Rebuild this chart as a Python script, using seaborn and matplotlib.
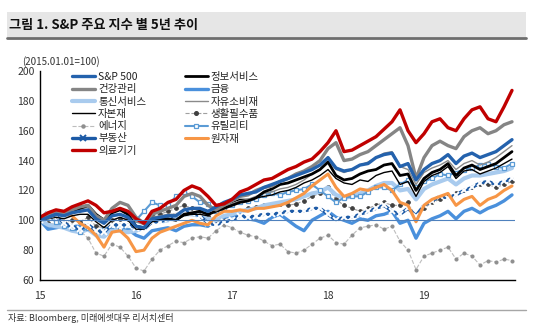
import numpy as np
import pandas as pd
import matplotlib
matplotlib.use("Agg")
import matplotlib.pyplot as plt
from matplotlib.lines import Line2D
from matplotlib.patches import Rectangle
import seaborn as sns

sns.set_theme(style="white")
plt.rcParams['font.family'] = ['Noto Sans CJK KR', 'DejaVu Sans']
plt.rcParams['axes.unicode_minus'] = False

# monthly observations Jan-2015 .. Dec-2019 ; x position = 15 + month/12
months = list(range(60))

sp500 = [100, 102, 104, 103, 105, 106, 107, 101, 98, 103, 104, 102,
         96, 95, 101, 102, 103, 103, 107, 108, 108, 106, 109, 112,
         114, 117, 118, 119, 122, 124, 126, 128, 130, 132, 134, 137,
         142, 135, 133, 134, 137, 138, 142, 144, 145, 136, 138, 127,
         134, 138, 140, 144, 138, 143, 145, 142, 144, 146, 150, 154]
info_svc = [100, 102, 104, 104, 106, 108, 110, 104, 100, 105, 107, 104,
            96, 95, 100, 101, 101, 100, 104, 105, 106, 104, 106, 108,
            110, 112, 113, 115, 119, 121, 124, 125, 127, 129, 131, 134,
            139, 130, 127, 128, 131, 133, 134, 137, 138, 130, 131, 120,
            128, 132, 134, 138, 130, 135, 137, 134, 136, 138, 142, 146]
health = [101, 104, 106, 104, 107, 109, 110, 103, 100, 108, 112, 110,
          102, 98, 104, 106, 108, 110, 116, 118, 116, 110, 107, 110,
          113, 116, 117, 120, 122, 123, 126, 128, 131, 133, 136, 140,
          148, 152, 140, 141, 144, 146, 150, 154, 158, 162, 150, 128,
          142, 150, 153, 150, 148, 156, 160, 162, 158, 160, 164, 166]
financials = [100, 94, 95, 96, 96, 96, 97, 93, 91, 95, 95, 94,
              90, 88, 93, 94, 95, 93, 96, 97, 97, 96, 100, 102,
              103, 104, 101, 100, 98, 102, 104, 100, 96, 93, 100, 103,
              106, 102, 100, 98, 101, 100, 103, 104, 106, 98, 100, 88,
              98, 101, 103, 106, 101, 106, 108, 105, 108, 110, 113, 117]
telecom = [100, 97, 96, 95, 93, 92, 94, 90, 89, 94, 93, 92,
           93, 95, 99, 99, 100, 102, 104, 104, 103, 101, 100, 103,
           104, 106, 107, 108, 110, 111, 112, 113, 114, 116, 118, 119,
           122, 117, 115, 116, 118, 120, 123, 125, 125, 120, 121, 114,
           121, 124, 126, 128, 124, 128, 130, 130, 131, 132, 133, 135]
cons_disc = [100, 101, 103, 104, 105, 107, 109, 104, 101, 106, 108, 106,
             99, 97, 102, 103, 104, 104, 107, 108, 108, 106, 107, 109,
             111, 113, 114, 116, 118, 119, 121, 122, 124, 127, 131, 134,
             140, 134, 132, 134, 137, 139, 142, 145, 146, 136, 134, 124,
             132, 135, 137, 140, 134, 138, 140, 137, 139, 142, 146, 150]
capital_goods = [100, 101, 102, 101, 103, 104, 104, 99, 95, 100, 102, 100,
                 94, 94, 99, 100, 101, 100, 103, 104, 104, 103, 107, 110,
                 112, 114, 114, 115, 116, 117, 119, 120, 122, 125, 127, 130,
                 134, 128, 125, 124, 127, 126, 130, 132, 133, 124, 126, 116,
                 126, 130, 132, 136, 128, 133, 134, 131, 133, 135, 138, 141]
staples = [100, 98, 97, 99, 100, 99, 102, 96, 95, 100, 101, 101,
           100, 99, 103, 104, 106, 108, 110, 108, 106, 103, 100, 102,
           104, 106, 108, 109, 110, 110, 111, 110, 111, 113, 116, 118,
           122, 114, 110, 108, 106, 108, 110, 112, 110, 110, 112, 102,
           108, 112, 114, 116, 118, 120, 122, 124, 124, 122, 124, 126]
energy = [100, 97, 96, 99, 97, 93, 88, 78, 76, 84, 82, 76,
          68, 66, 74, 80, 83, 86, 85, 88, 89, 88, 93, 97,
          95, 92, 90, 89, 86, 83, 84, 79, 78, 80, 84, 88,
          90, 85, 84, 90, 95, 96, 97, 94, 96, 86, 80, 67,
          76, 78, 80, 82, 74, 78, 76, 70, 73, 72, 74, 73]
utilities = [100, 103, 99, 96, 95, 92, 95, 93, 94, 96, 95, 96,
             100, 106, 112, 110, 110, 116, 119, 116, 112, 111, 106, 108,
             110, 112, 113, 114, 117, 118, 117, 119, 120, 121, 124, 120,
             116, 112, 115, 116, 116, 119, 122, 122, 120, 124, 127, 122,
             126, 128, 131, 130, 132, 134, 135, 137, 138, 136, 135, 138]
real_estate = [100, 106, 103, 98, 96, 94, 97, 93, 92, 97, 97, 97,
               95, 94, 99, 99, 101, 104, 106, 105, 103, 98, 97, 99,
               100, 103, 102, 103, 104, 104, 105, 106, 106, 106, 108, 108,
               104, 100, 102, 102, 104, 106, 108, 110, 106, 104, 108, 103,
               110, 113, 116, 115, 117, 120, 122, 125, 126, 124, 126, 128]
materials = [100, 103, 104, 104, 103, 98, 95, 90, 82, 92, 93, 88,
             79, 80, 88, 92, 94, 96, 98, 100, 98, 97, 103, 106,
             106, 107, 106, 108, 108, 109, 110, 112, 115, 118, 123, 127,
             131, 122, 116, 118, 121, 120, 122, 124, 120, 112, 110, 99,
             110, 114, 116, 118, 110, 114, 116, 110, 114, 116, 120, 123]
med_devices = [102, 105, 107, 106, 109, 111, 113, 110, 105, 106, 108, 106,
               101, 98, 106, 108, 112, 114, 120, 123, 121, 116, 110, 111,
               114, 119, 121, 124, 127, 128, 131, 134, 136, 139, 141, 146,
               152, 160, 146, 147, 150, 153, 156, 161, 166, 174, 160, 152,
               158, 166, 168, 162, 160, 168, 174, 176, 168, 166, 176, 187]

x_tick_vals = [15, 16, 17, 18, 19]
x_tick_labels = ["15", "16", "17", "18", "19"]
y_tick_vals = [60, 80, 100, 120, 140, 160, 180, 200]

series = {
    'S&P 500': sp500, '정보서비스': info_svc, '건강관리': health, '금융': financials,
    '통신서비스': telecom, '자유소비재': cons_disc, '자본재': capital_goods,
    '생활필수품': staples, '에너지': energy, '유틸리티': utilities,
    '부동산': real_estate, '원자재': materials, '의료기기': med_devices,
}

styles = {
    'S&P 500': dict(color='#2462ad', linewidth=2.4),
    '정보서비스': dict(color='#000000', linewidth=2.0),
    '건강관리': dict(color='#858585', linewidth=2.4),
    '금융': dict(color='#4a90dc', linewidth=2.4),
    '통신서비스': dict(color='#a9cbee', linewidth=3.0),
    '자유소비재': dict(color='#8a8a8a', linewidth=1.0),
    '자본재': dict(color='#000000', linewidth=1.0),
    '생활필수품': dict(color='#a0a0a0', linewidth=0.8, linestyle='--', marker='o',
                   markersize=2.6, markerfacecolor='#404040', markeredgecolor='#404040'),
    '에너지': dict(color='#bdbdbd', linewidth=0.8, linestyle='--', marker='o',
                markersize=2.2, markerfacecolor='#8f8f8f', markeredgecolor='#8f8f8f'),
    '유틸리티': dict(color='#5b9bd5', linewidth=1.5, marker='s', markersize=3.4,
                 markerfacecolor='white', markeredgecolor='#5b9bd5', markeredgewidth=0.9),
    '부동산': dict(color='#1c5aa6', linewidth=2.4, marker='x', markersize=4.0,
                markeredgewidth=1.4),
    '원자재': dict(color='#f79646', linewidth=2.2),
    '의료기기': dict(color='#c00000', linewidth=2.4),
}

draw_order = ['에너지', '생활필수품', '금융', '통신서비스', '유틸리티', '부동산', '원자재',
              '자본재', '자유소비재', '정보서비스', '건강관리', 'S&P 500', '의료기기']

W, H = 536, 335
fig = plt.figure(figsize=(W / 100, H / 100), dpi=100)
fig.patch.set_facecolor('white')

# title band
fig.patches.append(Rectangle((7 / W, 1 - 37 / H), 519 / W, 25 / H, transform=fig.transFigure,
                             facecolor='#e6e6e6', edgecolor='none', zorder=0))
fig.add_artist(Line2D([7 / W, 526 / W], [1 - 37.5 / H, 1 - 37.5 / H], transform=fig.transFigure,
                      color='#6e6e6e', linewidth=2.0))
fig.text(9 / W, 1 - 24.5 / H, "그림 1. S&P 주요 지수 별 5년 추이", fontsize=9.5, fontweight='bold',
         va='center', ha='left', color='#111111')
fig.text(22 / W, 1 - 62 / H, "(2015.01.01=100)", fontsize=7, va='center', ha='left', color='#333333')

ax = fig.add_axes([40 / W, 1 - 280 / H, 475 / W, 209 / H])
ax.set_facecolor('white')

x_vals = [15 + m / 12 for m in months]
for name in draw_order:
    df = pd.DataFrame({'x': x_vals, 'y': series[name]})
    sns.lineplot(data=df, x='x', y='y', ax=ax, errorbar=None, legend=False, sort=False,
                 **styles[name])

ax.axhline(100, color='#4f81bd', linewidth=0.8, zorder=3)

ax.set_xlim(15, 15 + 475 / 96)
ax.set_ylim(60, 200)
ax.set_xticks(x_tick_vals)
ax.set_xticklabels(x_tick_labels)
ax.set_yticks(y_tick_vals)
ax.set_xlabel("")
ax.set_ylabel("")
for s in ['top', 'right']:
    ax.spines[s].set_visible(False)
for s in ['left', 'bottom']:
    ax.spines[s].set_color('black')
    ax.spines[s].set_linewidth(1.0)
ax.tick_params(axis='both', direction='in', length=3, width=0.8, color='black',
               labelsize=7.5, labelcolor='#333333', pad=4)
ax.tick_params(axis='x', pad=8)
ax.grid(False)

col1 = ['S&P 500', '건강관리', '통신서비스', '자본재', '에너지', '부동산', '의료기기']
col2 = ['정보서비스', '금융', '자유소비재', '생활필수품', '유틸리티', '원자재']
labels = col1 + col2
handles = [Line2D([0], [0], **styles[n]) for n in labels]
ax.legend(handles, labels, ncol=2, loc='upper left', bbox_to_anchor=(72 / W, 1 - 72 / H),
          bbox_transform=fig.transFigure, frameon=False, fontsize=7.5, handlelength=2.2,
          handletextpad=0.3, labelspacing=0.22, columnspacing=3.7, borderpad=0,
          borderaxespad=0, labelcolor='#222222')

# source line
fig.add_artist(Line2D([7 / W, 526 / W], [1 - 310 / H, 1 - 310 / H], transform=fig.transFigure,
                      color='#a6a6a6', linewidth=1.0))
fig.text(8 / W, 1 - 318 / H, "자료: Bloomberg, 미래에셋대우 리서치센터", fontsize=6.5,
         va='center', ha='left', color='#333333')

fig.savefig('out.png', dpi=100)
